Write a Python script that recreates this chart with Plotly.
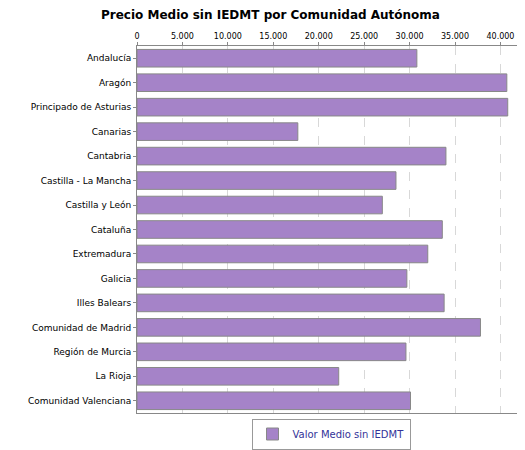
import plotly.graph_objects as go

comunidades = ["Andalucía", "Aragón", "Principado de Asturias", "Canarias", "Cantabria",
               "Castilla - La Mancha", "Castilla y León", "Cataluña", "Extremadura", "Galicia",
               "Illes Balears", "Comunidad de Madrid", "Región de Murcia", "La Rioja",
               "Comunidad Valenciana"]
precio_medio = [30800, 40700, 40800, 17700, 34000, 28500, 27000, 33600, 32000, 29700,
                33800, 37800, 29600, 22200, 30100]
tick_vals = [0, 5000, 10000, 15000, 20000, 25000, 30000, 35000, 40000]
tick_text = ["0", "5.000", "10.000", "15.000", "20.000", "25.000", "30.000", "35.000", "40.000"]

fig = go.Figure(go.Bar(
    y=comunidades, x=precio_medio, orientation="h",
    name="Valor Medio sin IEDMT",
    marker=dict(color="#a583c8", line=dict(color="#888888", width=1)),
    width=0.72,
))

fig.update_layout(
    width=525, height=450,
    margin=dict(l=129, r=8, t=38, b=30),
    paper_bgcolor="white", plot_bgcolor="white",
    font=dict(family="DejaVu Sans", size=9, color="black"),
    title=dict(text="<b>Precio Medio sin IEDMT por Comunidad Autónoma</b>",
               x=0.5, y=0.995, xanchor="center", yanchor="top",
               font=dict(size=12)),
    xaxis=dict(side="top", range=[0, 42700], tickvals=tick_vals, ticktext=tick_text,
               showgrid=True, gridcolor="#d8d8d8", griddash="dash",
               showline=True, linecolor="#888888", mirror=True,
               ticks="outside", ticklen=3, tickcolor="#888888",
               tickfont=dict(size=8), zeroline=False, automargin=False),
    yaxis=dict(autorange="reversed", showline=True, linecolor="#888888",
               ticks="outside", ticklen=3, tickcolor="#888888",
               tickfont=dict(size=9), automargin=False),
    showlegend=True,
    legend=dict(orientation="h", x=0.5, xanchor="center", y=-0.015, yanchor="top",
                bordercolor="#999999", borderwidth=1, tracegroupgap=0,
                font=dict(size=10, color="#333399")),
)

fig.write_html("out.html")
